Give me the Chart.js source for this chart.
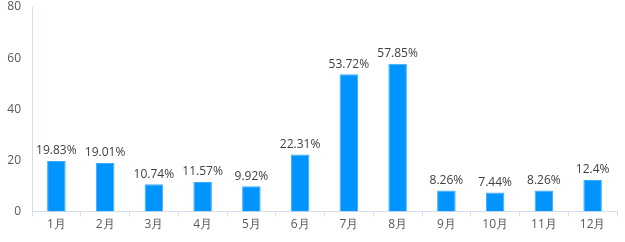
<!DOCTYPE html>
<html lang="zh">
<head>
    <meta charset="UTF-8">
    <title>月度占比</title>
    <script src="https://cdn.jsdelivr.net/npm/chart.js"></script>
    <style>
        html, body { margin: 0; padding: 0; background: #fff; }
        .chart-container { position: relative; width: 625px; height: 242px; }
    </style>
</head>
<body>
    <div class="chart-container">
        <canvas id="monthChart"></canvas>
    </div>
    <script>
        const months = ['1月', '2月', '3月', '4月', '5月', '6月', '7月', '8月', '9月', '10月', '11月', '12月'];
        const values = [19.83, 19.01, 10.74, 11.57, 9.92, 22.31, 53.72, 57.85, 8.26, 7.44, 8.26, 12.4];
        const yTicks = [0, 20, 40, 60, 80];

        // подписи над столбцами
        const barLabels = {
            id: 'barLabels',
            afterDatasetsDraw(chart) {
                const ctx = chart.ctx;
                const meta = chart.getDatasetMeta(0);
                ctx.save();
                ctx.font = '12px "Open Sans", sans-serif';
                ctx.fillStyle = '#404040';
                ctx.textAlign = 'center';
                ctx.textBaseline = 'bottom';
                meta.data.forEach((bar, i) => {
                    ctx.fillText(values[i] + '%', bar.x, bar.y - 4);
                });
                ctx.restore();
            }
        };

        new Chart(document.getElementById('monthChart'), {
            type: 'bar',
            data: {
                labels: months,
                datasets: [{
                    data: values,
                    backgroundColor: '#0094FF',
                    borderColor: '#3AAAFF',
                    borderWidth: 1,
                    barPercentage: 0.38,
                    categoryPercentage: 1
                }]
            },
            options: {
                responsive: true,
                maintainAspectRatio: false,
                animation: false,
                layout: { padding: { top: 1, right: 8, left: 7, bottom: 9 } },
                plugins: { legend: { display: false }, tooltip: { enabled: false } },
                scales: {
                    x: {
                        grid: {
                            offset: true,
                            drawOnChartArea: false,
                            drawTicks: true,
                            tickLength: 5,
                            color: '#D6DEEA'
                        },
                        border: { color: '#D6DEEA' },
                        ticks: {
                            color: '#595959',
                            font: { size: 12, family: '"Open Sans", sans-serif' },
                            padding: 1
                        }
                    },
                    y: {
                        min: 0,
                        max: 80,
                        afterBuildTicks(axis) {
                            axis.ticks = yTicks.map(v => ({ value: v }));
                        },
                        afterFit(axis) {
                            axis.width = 25;
                            axis.paddingTop = 7;
                            axis.paddingBottom = 7;
                        },
                        grid: { display: false, drawTicks: false, tickLength: 0 },
                        border: { display: true, color: '#D6DEEA' },
                        ticks: {
                            color: '#595959',
                            font: { size: 12, family: '"Open Sans", sans-serif' },
                            padding: 11
                        }
                    }
                }
            },
            plugins: [barLabels]
        });
    </script>
</body>
</html>
